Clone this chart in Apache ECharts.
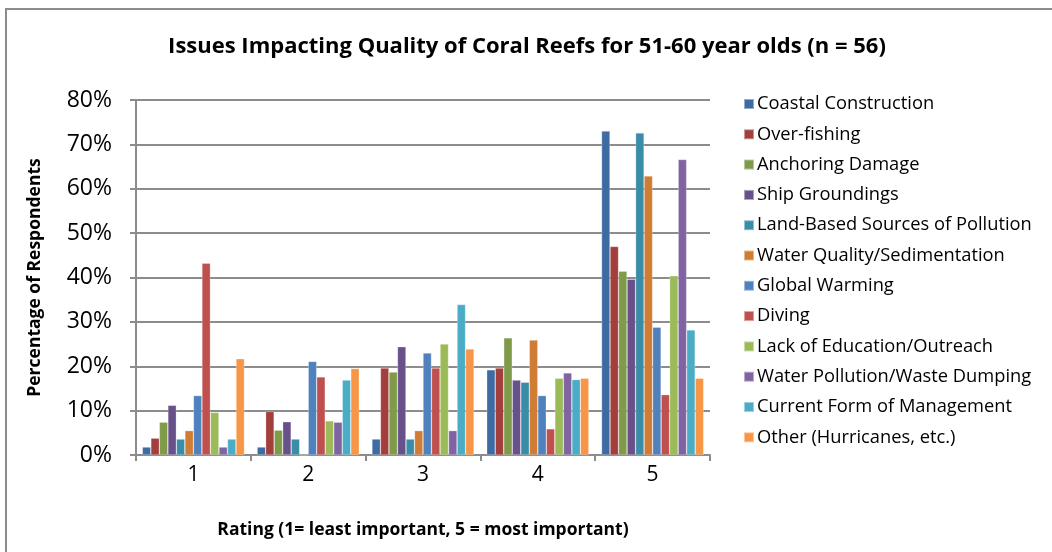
<!DOCTYPE html>
<html>
<head>
<meta charset="utf-8">
<script src="https://cdn.jsdelivr.net/npm/echarts@6/dist/echarts.min.js"></script>
<style>
  html, body { margin: 0; padding: 0; background: #fff; }
  #wrap { position: relative; width: 1052px; height: 552px; overflow: hidden; }
  #frame { position: absolute; left: 5px; top: 8px; width: 1100px; height: 600px; border: 2px solid #8c8c8c; box-sizing: border-box; }
  #chart { position: absolute; left: 0; top: 0; width: 1052px; height: 552px; }
</style>
</head>
<body>
<div id="wrap">
  <div id="frame"></div>
  <div id="chart"></div>
</div>
<script>
const categories = ['1', '2', '3', '4', '5'];
const seriesNames = [
  'Coastal Construction', 'Over-fishing', 'Anchoring Damage', 'Ship Groundings',
  'Land-Based Sources of Pollution', 'Water Quality/Sedimentation', 'Global Warming', 'Diving',
  'Lack of Education/Outreach', 'Water Pollution/Waste Dumping', 'Current Form of Management', 'Other (Hurricanes, etc.)'
];
const coastal      = [1.8, 1.8, 3.6, 19.2, 73.0];
const overfishing  = [3.8, 9.8, 19.6, 19.6, 47.0];
const anchoring    = [7.4, 5.6, 18.7, 26.4, 41.4];
const ship         = [11.2, 7.5, 24.4, 16.9, 39.6];
const landBased    = [3.6, 3.6, 3.6, 16.4, 72.6];
const waterQuality = [5.5, 0, 5.5, 25.9, 62.9];
const globalWarm   = [13.4, 21.1, 23.0, 13.4, 28.8];
const diving       = [43.2, 17.6, 19.6, 5.9, 13.6];
const lackEdu      = [9.6, 7.7, 25.0, 17.3, 40.4];
const waterPoll    = [1.8, 7.4, 5.5, 18.5, 66.6];
const currentMgmt  = [3.6, 16.9, 33.9, 17.0, 28.2];
const other        = [21.7, 19.5, 23.9, 17.3, 17.3];
const seriesData = [coastal, overfishing, anchoring, ship, landBased, waterQuality,
                    globalWarm, diving, lackEdu, waterPoll, currentMgmt, other];
const colors = ['#3F6BA3', '#A23E3B', '#7F9A48', '#68508A', '#3A8DA6', '#D07C35',
                '#4F81BD', '#C0504D', '#9BBB59', '#8064A2', '#4BACC6', '#F79646'];

const FONT = '"Open Sans", "Noto Sans", sans-serif';
const chart = echarts.init(document.getElementById('chart'), null, { renderer: 'canvas' });
chart.setOption({
  animation: false,
  color: colors,
  title: {
    text: 'Issues Impacting Quality of Coral Reefs for 51-60 year olds (n = 56)',
    left: 522, top: 31, textAlign: 'center',
    textStyle: { fontFamily: FONT, fontSize: 22, fontWeight: 'bold', color: '#000' }
  },
  legend: {
    orient: 'vertical', left: 738, top: 89,
    itemWidth: 10, itemHeight: 10, itemGap: 10.3,
    icon: 'rect',
    textStyle: { fontFamily: FONT, fontSize: 18.3, color: '#000', lineHeight: 20, padding: [0, 0, 0, -2] },
    data: seriesNames
  },
  grid: { left: 136, right: 342, top: 100, bottom: 97, containLabel: false },
  xAxis: {
    type: 'category', data: categories,
    name: 'Rating (1= least important, 5 = most important)',
    nameLocation: 'middle', nameGap: 66,
    nameTextStyle: { fontFamily: FONT, fontSize: 17.5, fontWeight: 'bold', color: '#000' },
    axisLine: { lineStyle: { color: '#8c8c8c', width: 2 } },
    axisTick: { show: true, length: 6, lineStyle: { color: '#8c8c8c', width: 2 } },
    axisLabel: { fontFamily: FONT, fontSize: 21, color: '#000', margin: 10 }
  },
  yAxis: {
    type: 'value', min: 0, max: 80, interval: 10,
    name: 'Percentage of Respondents',
    nameLocation: 'middle', nameGap: 92, nameRotate: 90,
    nameTextStyle: { fontFamily: FONT, fontSize: 17.5, fontWeight: 'bold', color: '#000' },
    axisLine: { show: true, lineStyle: { color: '#8c8c8c', width: 2 } },
    axisTick: { show: true, length: 6, lineStyle: { color: '#8c8c8c', width: 2 } },
    splitLine: { lineStyle: { color: '#8c8c8c', width: 2 } },
    axisLabel: { fontFamily: FONT, fontSize: 23, color: '#000', margin: 24, formatter: '{value}%' }
  },
  series: seriesData.map((d, i) => ({
    name: seriesNames[i], type: 'bar', data: d,
    barGap: '0%', barCategoryGap: '11%',
    itemStyle: { borderColor: 'rgba(255,255,255,0.45)', borderWidth: 0.6 }
  }))
});
</script>
</body>
</html>
